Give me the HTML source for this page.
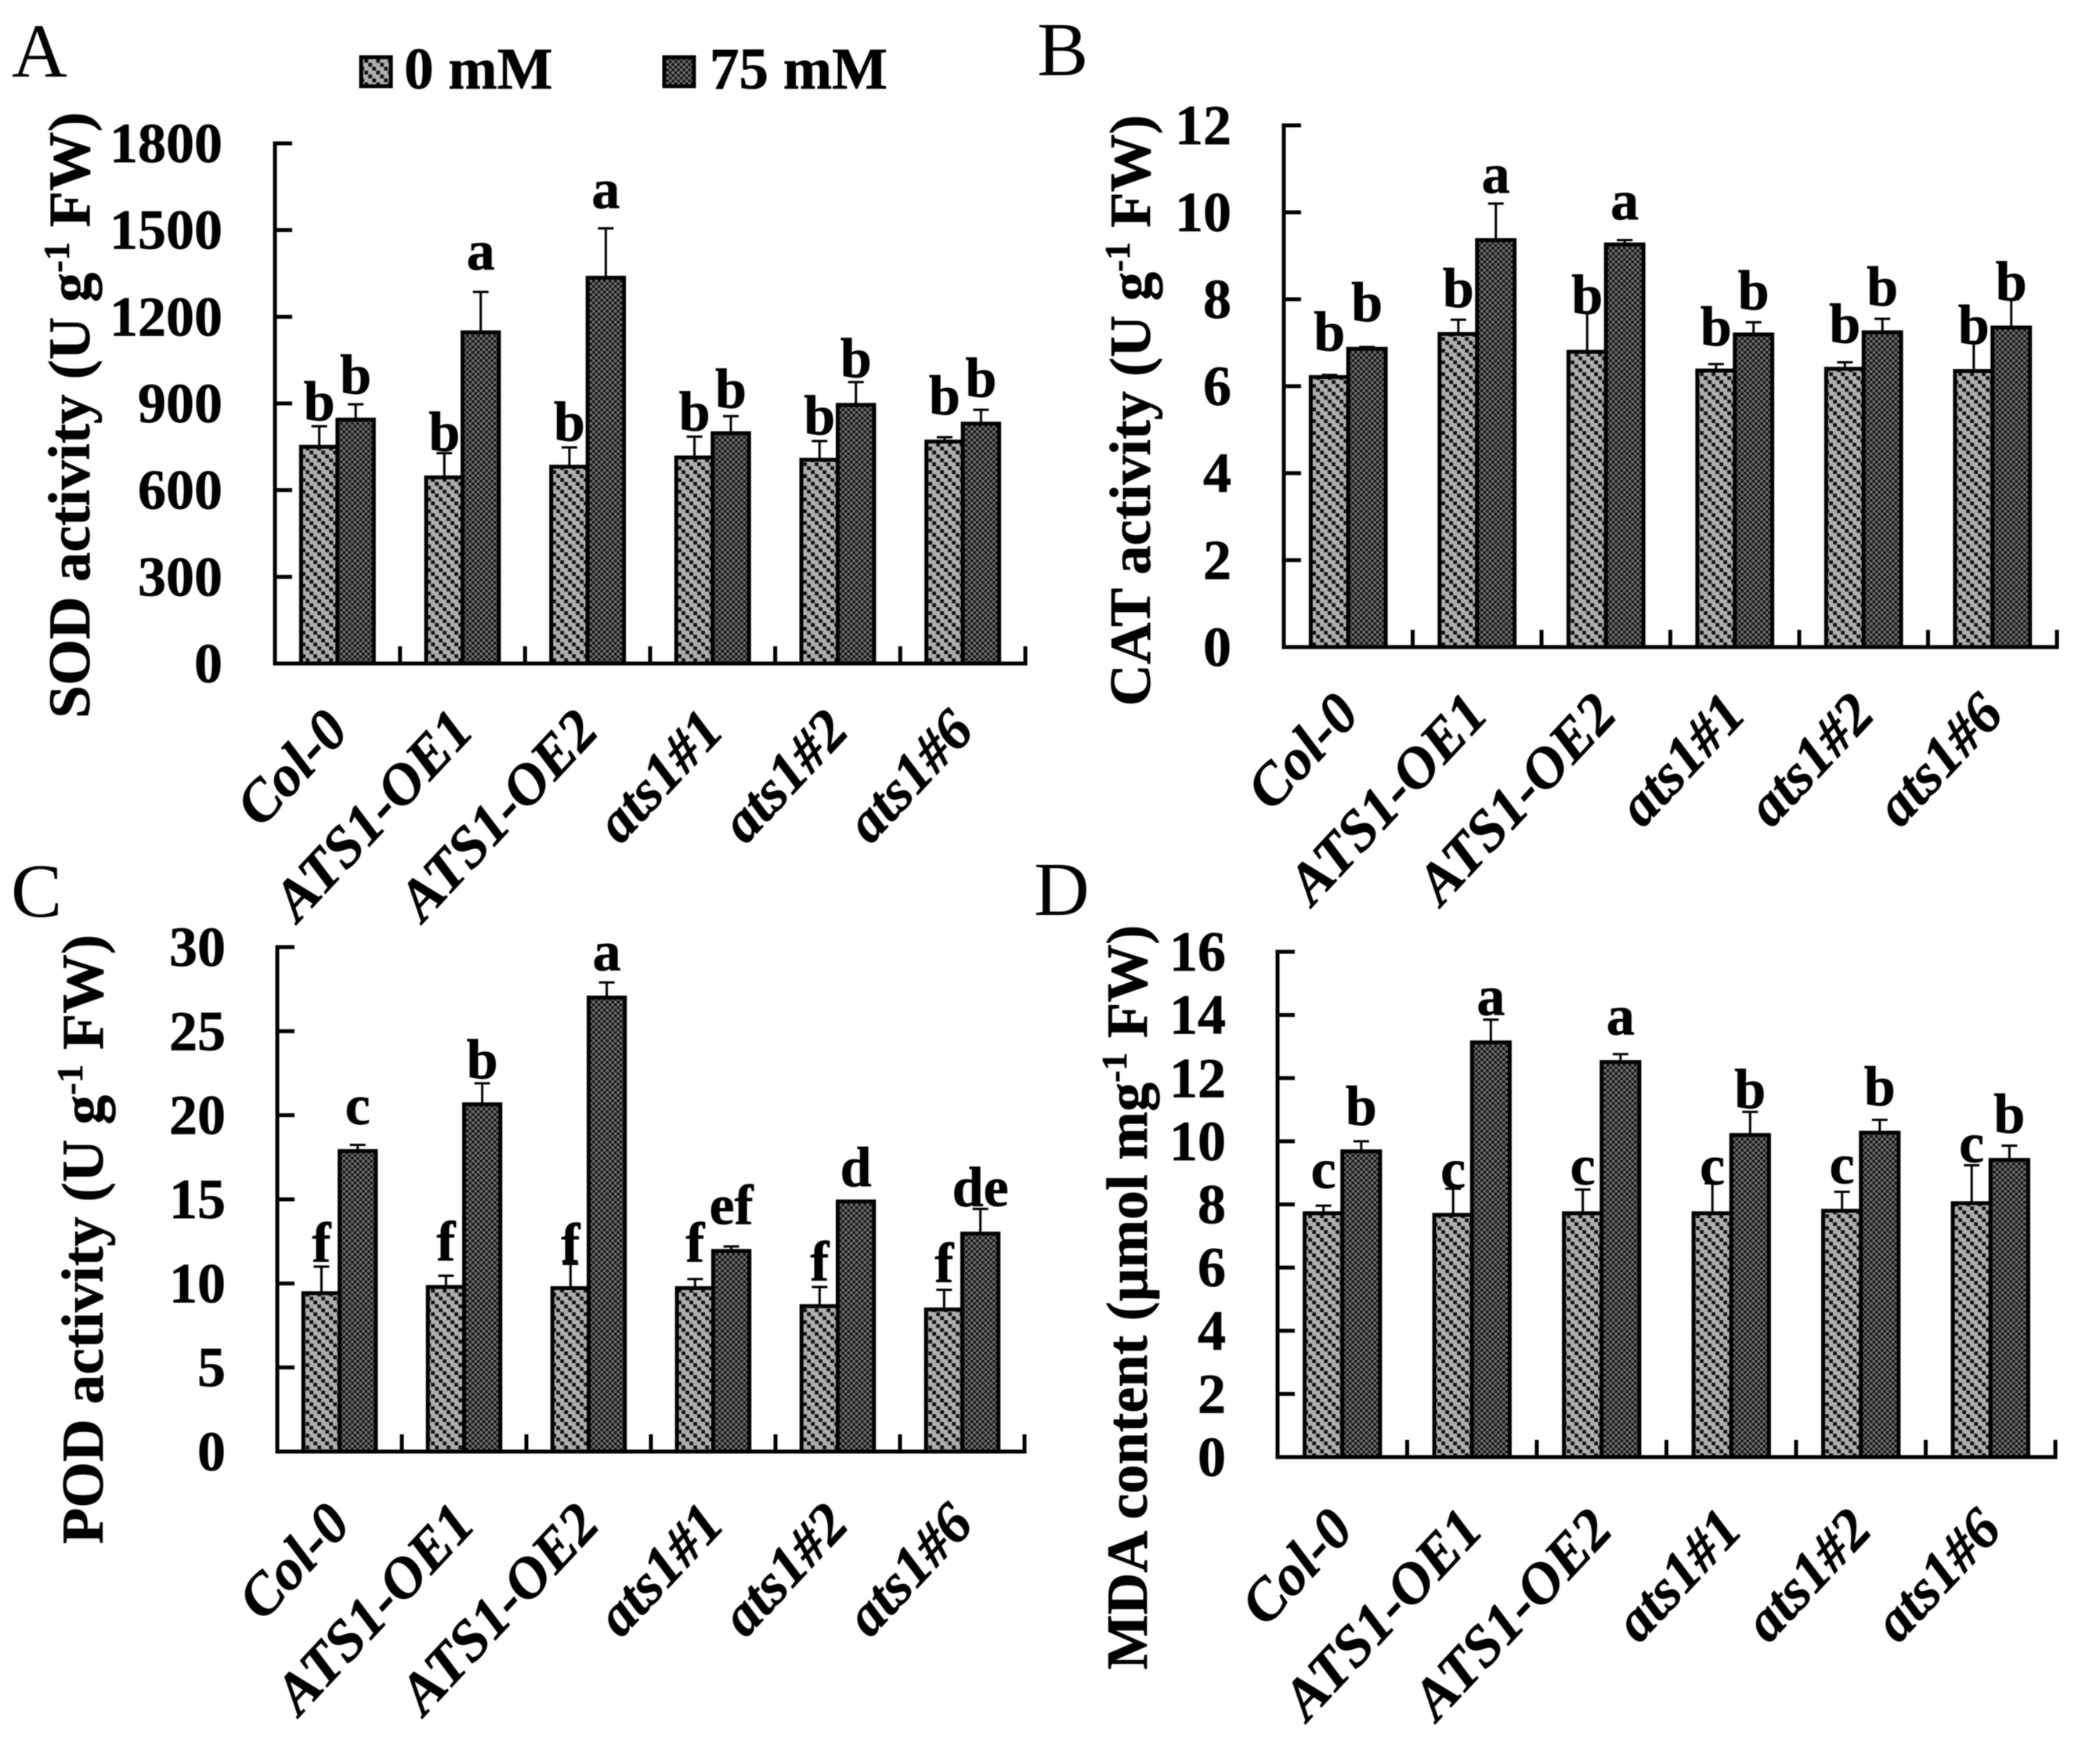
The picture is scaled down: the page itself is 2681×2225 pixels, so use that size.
<!DOCTYPE html>
<html lang="en">
<head>
<meta charset="utf-8">
<title>Antioxidant enzyme activity and MDA content</title>
<style>
html,body{margin:0;padding:0;background:#fff;}
svg{display:block;filter:blur(0.6px);}
text{font-family:"Liberation Serif","Times New Roman",serif;fill:#000;}
.b{font-weight:bold;stroke:#000;stroke-width:0.7px;}
</style>
</head>
<body>
<svg id="figure" xmlns="http://www.w3.org/2000/svg" width="2681" height="2225" viewBox="0 0 2681 2225">
<defs>
<pattern id="hatch" patternUnits="userSpaceOnUse" width="15" height="15">
<rect width="15" height="15" fill="#adadad"/>
<rect x="0.25" y="0.25" width="4.8" height="4.8" fill="#111"/>
<rect x="5.25" y="5.25" width="4.8" height="4.8" fill="#111"/>
<rect x="10.25" y="10.25" width="4.8" height="4.8" fill="#111"/>
</pattern>
<pattern id="check" patternUnits="userSpaceOnUse" width="7" height="7">
<rect width="7" height="7" fill="#707070"/>
<rect x="0" y="0" width="3.5" height="3.5" fill="#151515"/>
<rect x="3.5" y="3.5" width="3.5" height="3.5" fill="#151515"/>
</pattern>
</defs>
<text x="15" y="98" font-size="98">A</text>
<text x="1324" y="96" font-size="98">B</text>
<text x="14" y="1170" font-size="98">C</text>
<text x="1320" y="1168" font-size="98">D</text>
<g>
<rect x="461" y="73" width="38" height="37" fill="url(#hatch)" stroke="#000" stroke-width="5"/>
<text class="b" x="516" y="113" font-size="75">0 mM</text>
<rect x="848" y="73" width="38" height="37" fill="url(#check)" stroke="#000" stroke-width="5"/>
<text class="b" x="906" y="113" font-size="75">75 mM</text>
</g>
<g id="plots"></g>
</svg>
<script>
var categories = ["Col-0", "ATS1-OE1", "ATS1-OE2", "ats1#1", "ats1#2", "ats1#6"];

var sodTicks = [0, 300, 600, 900, 1200, 1500, 1800];
var sodControl = [750, 644, 681, 713, 705, 768];
var sodSalt = [844, 1146, 1335, 797, 895, 830];
var sodControlErr = [71, 84, 67, 72, 65, 15];
var sodSaltErr = [53, 140, 171, 59, 79, 48];
var sodControlLetters = ["b", "b", "b", "b", "b", "b"];
var sodSaltLetters = ["b", "a", "a", "b", "b", "b"];
var sodControlLift = [92, 92, 90, 94, 88, 94];
var sodSaltLift = [90, 218, 241, 88, 96, 93];

var catTicks = [0, 2, 4, 6, 8, 10, 12];
var catControl = [6.21, 7.2, 6.79, 6.36, 6.4, 6.35];
var catSalt = [6.86, 9.36, 9.26, 7.19, 7.24, 7.35];
var catControlErr = [0.05, 0.33, 0.91, 0.15, 0.15, 0.67];
var catSaltErr = [0.04, 0.84, 0.1, 0.28, 0.31, 0.65];
var catControlLetters = ["b", "b", "b", "b", "b", "b"];
var catSaltLetters = ["b", "a", "a", "b", "b", "b"];
var catControlLift = [0.61, 0.62, 0.88, 0.58, 0.6, 0.62];
var catSaltLift = [0.64, 1.09, 0.58, 0.58, 0.62, 0.62];

var podTicks = [0, 5, 10, 15, 20, 25, 30];
var podControl = [9.42, 9.79, 9.72, 9.72, 8.65, 8.45];
var podSalt = [17.87, 20.65, 27, 11.93, 14.87, 12.96];
var podControlErr = [1.58, 0.67, 1.44, 0.54, 1.14, 1.17];
var podSaltErr = [0.37, 1.25, 0.9, 0.27, 0.03, 1.47];
var podControlLetters = ["f", "f", "f", "f", "f", "f"];
var podSaltLetters = ["c", "b", "a", "ef", "d", "de"];
var podControlLift = [1.87, 1.57, 1.54, 1.57, 1.54, 1.64];
var podSaltLift = [1.61, 1.55, 1.63, 1.6, 0.93, 1.64];

var mdaTicks = [0, 2, 4, 6, 8, 10, 12, 14, 16];
var mdaControl = [7.72, 7.67, 7.72, 7.72, 7.8, 8.04];
var mdaSalt = [9.68, 13.13, 12.51, 10.2, 10.27, 9.41];
var mdaControlErr = [0.24, 0.83, 0.75, 0.95, 0.6, 1.2];
var mdaSaltErr = [0.32, 0.72, 0.25, 0.73, 0.41, 0.45];
var mdaControlLetters = ["c", "c", "c", "c", "c", "c"];
var mdaSaltLetters = ["b", "a", "a", "b", "b", "b"];
var mdaControlLift = [0.8, 0.85, 0.91, 0.91, 0.87, 1.3];
var mdaSaltLift = [0.84, 0.87, 0.87, 0.85, 0.87, 0.86];

var NS = "http://www.w3.org/2000/svg";
var plots = document.getElementById("plots");

function make(tag, parent, attrs) {
  var el = document.createElementNS(NS, tag);
  for (var k in attrs) { el.setAttribute(k, attrs[k]); }
  parent.appendChild(el);
  return el;
}

function drawPanel(p) {
  var g = make("g", plots, {});
  
  

  var maxV = p.ticks[p.ticks.length - 1];
  function yAt(v) { return p.base - (v / maxV) * (p.base - p.top); }
  var step = (p.right - p.x0) / categories.length;
  var barW = step * 0.291;
  function catX(i) { return p.x0 + step * (i + 0.5); }

  function drawBar(value, err, letter, lift, cx, fill, series, i) {
    var yTop = yAt(value);
    var yErr = yAt(value + err);
    var stem = make("line", g, {x1: cx, x2: cx, y1: yTop, y2: yErr, stroke: "#000", "stroke-width": 3});
    
    
    var cap = make("line", g, {x1: cx - 10, x2: cx + 10, y1: yErr, y2: yErr, stroke: "#000", "stroke-width": 3});
    
    
    var bar = make("rect", g, {x: cx - barW / 2, y: yTop, width: barW, height: p.base - yTop, fill: fill, stroke: "#000", "stroke-width": 5});
    
    
    var t = make("text", g, {x: cx, y: yAt(value + lift), "text-anchor": "middle", "font-size": 72, "class": "b"});
    
    
    t.textContent = letter;
  }

  categories.forEach(function (name, i) {
    var c = catX(i);
    drawBar(p.control[i], p.controlErr[i], p.controlLetters[i], p.controlLift[i], c - barW / 2, "url(#hatch)", "0mm", i);
    drawBar(p.salt[i], p.saltErr[i], p.saltLetters[i], p.saltLift[i], c + barW / 2, "url(#check)", "75mm", i);

    var lx = c + p.catDx;
    var ly = p.base + p.catDy;
    var lab = make("text", g, {x: lx, y: ly, "text-anchor": "end", "font-size": 74, "font-style": "italic", "class": "b", transform: "rotate(-47 " + lx + " " + ly + ")"});
    
    
    lab.textContent = name;

    var tx = p.x0 + step * (i + 1);
    var tick = make("line", g, {x1: tx, x2: tx, y1: p.base, y2: p.base - 22, stroke: "#000", "stroke-width": 5});
    
    
  });

  p.ticks.forEach(function (v) {
    var y = yAt(v);
    var tick = make("line", g, {x1: p.x0, x2: p.x0 + 22, y1: y, y2: y, stroke: "#000", "stroke-width": 5});
    
    
    var lab = make("text", g, {x: p.labelRight, y: y + 24, "text-anchor": "end", "font-size": 72, "class": "b"});
    
    
    lab.textContent = String(v);
  });

  var yAxis = make("line", g, {x1: p.x0, x2: p.x0, y1: p.top - 2.5, y2: p.base + 2.5, stroke: "#000", "stroke-width": 5});
  
  
  var xAxis = make("line", g, {x1: p.x0, x2: p.right + 2.5, y1: p.base, y2: p.base, stroke: "#000", "stroke-width": 5});
  
  

  var title = make("text", g, {x: 0, y: 0, "text-anchor": "middle", "font-size": p.titleSize, "class": "b", transform: "translate(" + p.titleX + " " + p.titleY + ") rotate(-90)"});
  
  
  var t1 = make("tspan", title, {});
  t1.textContent = p.titleA;
  var t2 = make("tspan", title, {dy: -26, "font-size": p.titleSize * 0.62});
  t2.textContent = "-1";
  var t3 = make("tspan", title, {dy: 26});
  t3.textContent = " FW)";
}

drawPanel({key: "sod", ticks: sodTicks, control: sodControl, salt: sodSalt, controlErr: sodControlErr, saltErr: sodSaltErr, controlLetters: sodControlLetters, saltLetters: sodSaltLetters, controlLift: sodControlLift, saltLift: sodSaltLift,
  x0: 351, right: 1309, top: 183, base: 847, labelRight: 284, catDx: 17, catDy: 88, titleX: 114, titleY: 530, titleSize: 75.6, titleA: "SOD activity (U g"});
drawPanel({key: "cat", ticks: catTicks, control: catControl, salt: catSalt, controlErr: catControlErr, saltErr: catSaltErr, controlLetters: catControlLetters, saltLetters: catSaltLetters, controlLift: catControlLift, saltLift: catSaltLift,
  x0: 1639, right: 2626, top: 160, base: 826, labelRight: 1572, catDx: 17, catDy: 88, titleX: 1468, titleY: 524, titleSize: 74, titleA: "CAT activity (U g"});
drawPanel({key: "pod", ticks: podTicks, control: podControl, salt: podSalt, controlErr: podControlErr, saltErr: podSaltErr, controlLetters: podControlLetters, saltLetters: podSaltLetters, controlLift: podControlLift, saltLift: podSaltLift,
  x0: 354, right: 1308, top: 1209, base: 1853, labelRight: 288, catDx: 17, catDy: 95, titleX: 131, titleY: 1582, titleSize: 75.6, titleA: "POD activity (U g"});
drawPanel({key: "mda", ticks: mdaTicks, control: mdaControl, salt: mdaSalt, controlErr: mdaControlErr, saltErr: mdaSaltErr, controlLetters: mdaControlLetters, saltLetters: mdaSaltLetters, controlLift: mdaControlLift, saltLift: mdaSaltLift,
  x0: 1631, right: 2624, top: 1215, base: 1860, labelRight: 1565, catDx: 17, catDy: 95, titleX: 1464, titleY: 1656, titleSize: 74.2, titleA: "MDA content (\u00b5mol mg"});
</script>
</body>
</html>
